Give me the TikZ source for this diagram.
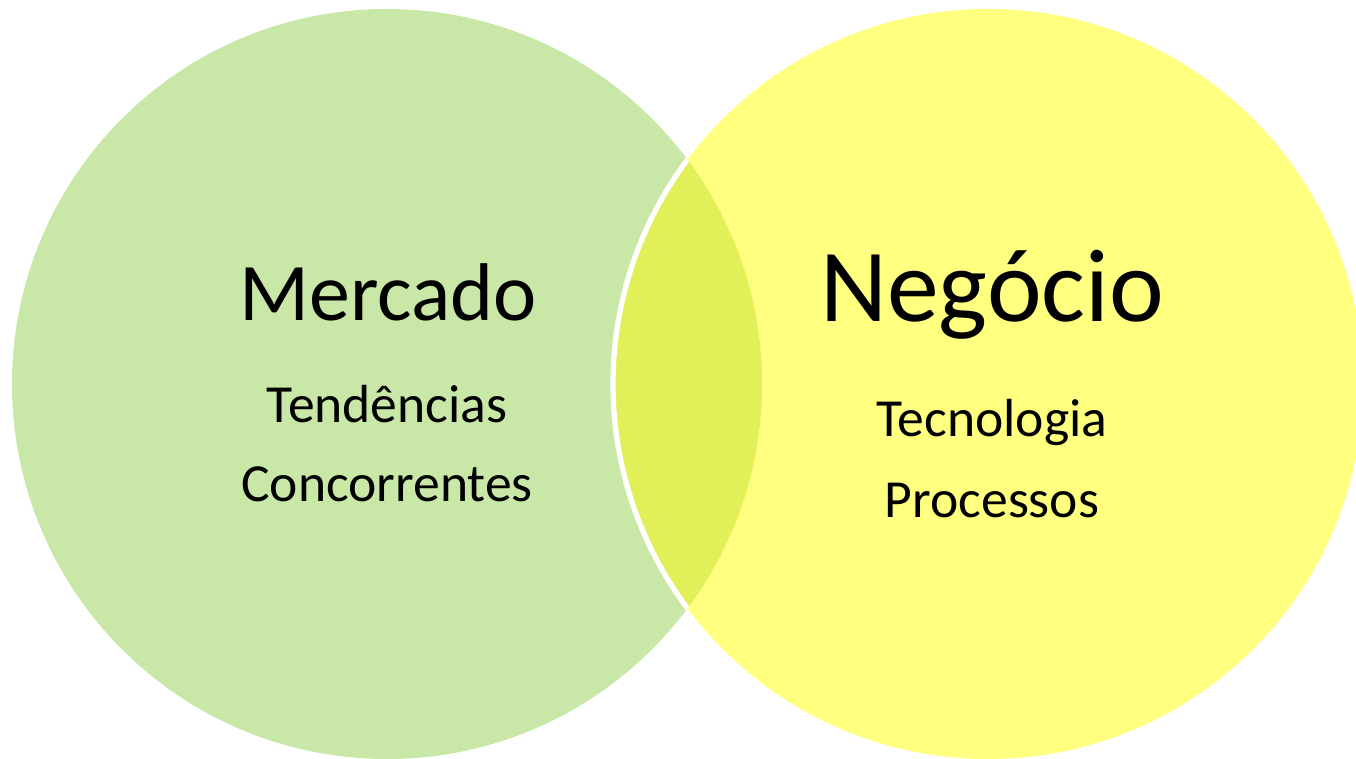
\documentclass[tikz,border=0pt]{standalone}
\usepackage{fontspec}
\setmainfont{Carlito}
\usepackage{xcolor}
\definecolor{mercadobg}{HTML}{C9E7A7}
\definecolor{negociobg}{HTML}{FFFF80}
\definecolor{overlapbg}{HTML}{E1F058}
\tikzset{
  rim/.style={draw=white, line width=3pt},
  title/.style={text=black, anchor=base, inner sep=0pt},
  item/.style={text=black, anchor=base, inner sep=0pt, font=\fontsize{30.5}{34}\selectfont},
}
\begin{document}
\begin{tikzpicture}[x=0.02cm, y=0.02cm]
  \def\r{375}
  \useasboundingbox (0,0) rectangle (1356,758);
  \coordinate (M) at (387,374);
  \coordinate (N) at (988,374);
  % circles
  \fill[mercadobg] (M) circle[radius=\r];
  \fill[negociobg] (N) circle[radius=\r];
  \begin{scope}
    \clip (M) circle[radius=\r];
    \fill[overlapbg] (N) circle[radius=\r];
    \draw[rim] (N) circle[radius=\r];
  \end{scope}
  % labels
  \node[title, font=\fontsize{46.6}{52}\selectfont] (mercado) at (388,437) {Mercado};
  \node[item] (tendencias) at (387,335) {Tendências};
  \node[item] (concorrentes) at (387,256) {Concorrentes};
  \node[title, font=\fontsize{59}{64}\selectfont] (negocio) at (992,436) {Negócio};
  \node[item] (tecnologia) at (992,321) {Tecnologia};
  \node[item] (processos) at (992,240) {Processos};
\end{tikzpicture}
\end{document}
